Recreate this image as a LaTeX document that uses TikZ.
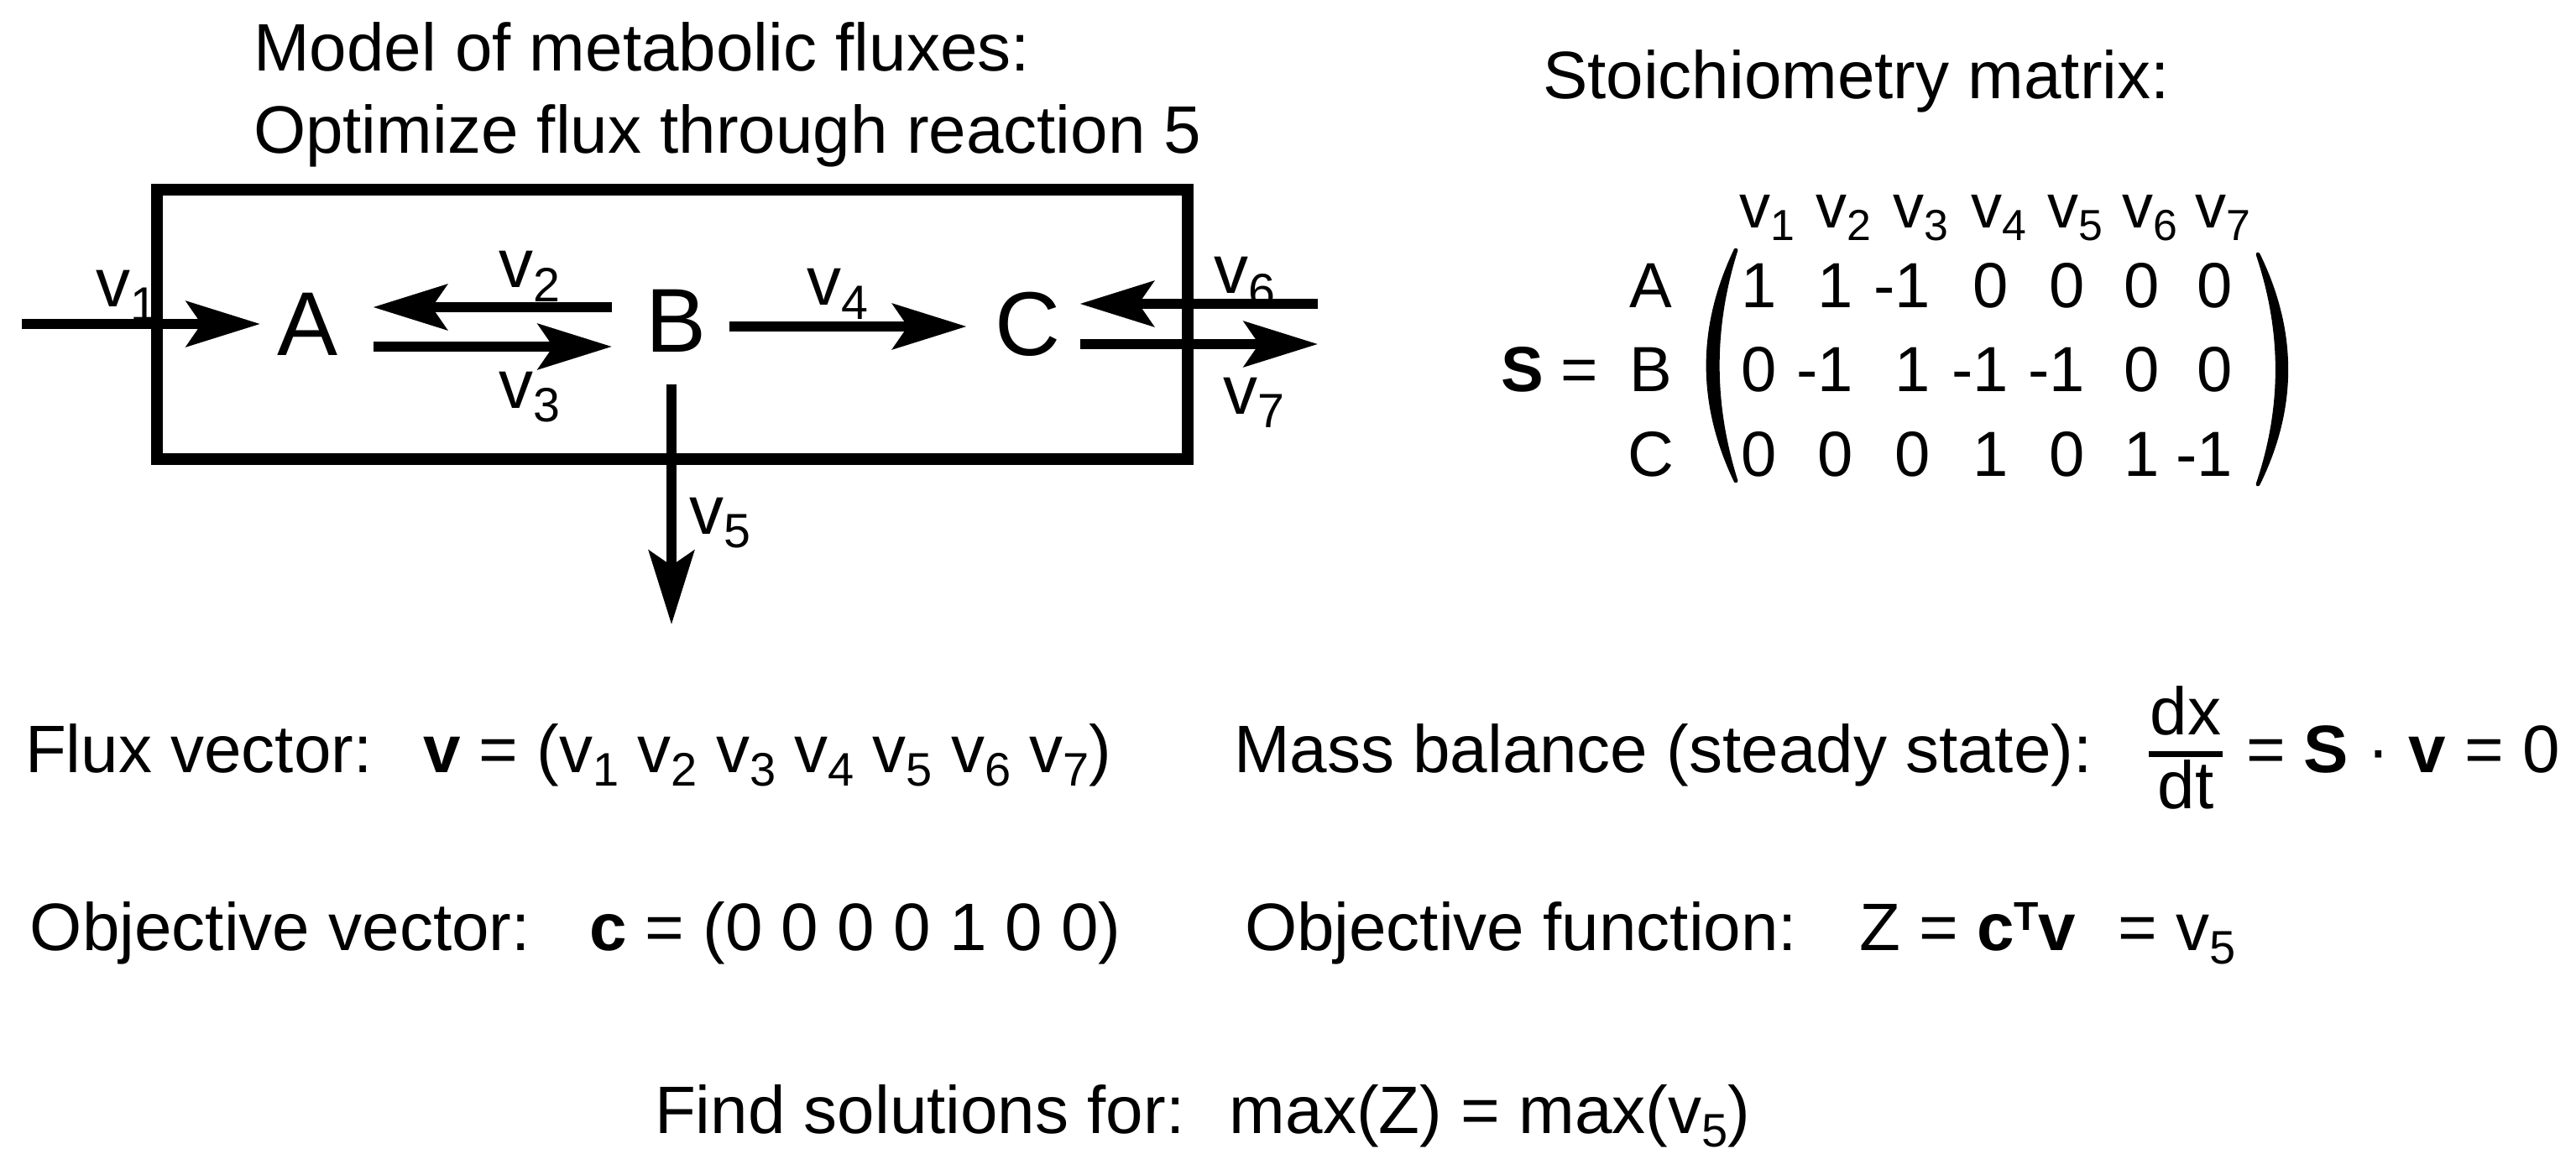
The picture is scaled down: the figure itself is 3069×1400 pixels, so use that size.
\documentclass[tikz,border=0pt]{standalone}
\usepackage{fontspec}
\setmainfont{Liberation Sans}
\usepackage{graphicx}
\usetikzlibrary{arrows.meta,calc}
\newcommand{\lowsub}[1]{\raisebox{-0.2em}{\scalebox{0.7}{#1}}}
\newcommand{\highsup}[1]{\raisebox{0.3em}{\scalebox{0.6}{#1}}}
\begin{document}
\begin{tikzpicture}[x=0.25pt,y=-0.25pt,
  txt/.style={font=\fontsize{20}{24}\selectfont, inner sep=0pt, outer sep=0pt, anchor=base west},
  mtx/.style={font=\fontsize{19}{23}\selectfont, inner sep=0pt, outer sep=0pt, anchor=base east},
  hdr/.style={font=\fontsize{18.5}{22}\selectfont, inner sep=0pt, outer sep=0pt, anchor=base},
  met/.style={font=\fontsize{27}{32}\selectfont, inner sep=0pt, outer sep=0pt, text height=19.3pt, text depth=0pt},
  lbl/.style={font=\fontsize{20.5}{24}\selectfont, inner sep=0pt, outer sep=0pt, anchor=base west},
  flux/.style={line width=3pt, -{Stealth[length=22pt,width=13.5pt,inset=4.5pt]}},
  compartment/.style={line width=3.5pt},
  paren/.style={fill=black, draw=black, line width=1.2pt, line join=round}
]
\useasboundingbox (0,0) rectangle (3069,1400);

% titles
\node[txt] (title1) at (302,85) {Model of metabolic fluxes:};
\node[txt] (title2) at (302,183) {Optimize flux through reaction 5};
\node[txt] (stoich) at (1838,118) {Stoichiometry matrix:};

% compartment
\draw[compartment] (187,226) rectangle (1415,547);

% metabolites
\node[met] (A) at (367,385) {A};
\node[met] (B) at (806,381) {B};
\node[met] (C) at (1224,385) {C};
\coordinate (in1) at (26,386);
\coordinate (in6) at (1570,362);
\coordinate (out7) at (1570,410);
\coordinate (out5) at (800,744);

\draw[flux] (in1) -- ($(A.west)+(-21,1)$);
\draw[flux] ($(B.west)+(-41,-15)$) -- ($(A.east)+(41.5,-19)$);
\draw[flux] ($(A.east)+(41.5,28)$) -- ($(B.west)+(-41,32)$);
\draw[flux] ($(B.east)+(26.5,8)$) -- ($(C.west)+(-33.5,4)$);
\draw[flux] (in6) -- ($(C.east)+(23.5,-23)$);
\draw[flux] ($(C.east)+(23.5,25)$) -- (out7);
\draw[flux] ($(B.south)+(-6,38)$) -- (out5);

\node[lbl] (l1) at (114,366) {v\lowsub{1}};
\node[lbl] (l2) at (594,343) {v\lowsub{2}};
\node[lbl] (l3) at (594,486) {v\lowsub{3}};
\node[lbl] (l4) at (961,364) {v\lowsub{4}};
\node[lbl] (l5) at (821,636) {v\lowsub{5}};
\node[lbl] (l6) at (1446,350) {v\lowsub{6}};
\node[lbl] (l7) at (1457,493) {v\lowsub{7}};

% stoichiometry matrix
\node[mtx, anchor=base west] (Seq) at (1788,467) {\textbf{S} =};
\node[mtx, anchor=base] (rA) at (1967,367) {A};
\node[mtx, anchor=base] (rB) at (1967,467) {B};
\node[mtx, anchor=base] (rC) at (1967,567) {C};
\foreach \x [count=\i] in {2105,2196,2288,2381,2472,2561,2648}
  \node[hdr] (h\i) at (\x,272) {v\lowsub{\i}};
\foreach \v/\x [count=\i] in {1/2117,1/2208,-1/2300,0/2393,0/2484,0/2573,0/2660}
  \node[mtx] (mA\i) at (\x,367) {\v};
\foreach \v/\x [count=\i] in {0/2117,-1/2208,1/2300,-1/2393,-1/2484,0/2573,0/2660}
  \node[mtx] (mB\i) at (\x,467) {\v};
\foreach \v/\x [count=\i] in {0/2117,0/2208,0/2300,1/2393,0/2484,1/2573,-1/2660}
  \node[mtx] (mC\i) at (\x,567) {\v};
\filldraw[paren] (2068,298) .. controls (2024,390) and (2024,481) .. (2068,573)
  .. controls (2039,481) and (2039,390) .. (2068,298) -- cycle;
\filldraw[paren] (2690,303) .. controls (2735,395) and (2735,486) .. (2690,577)
  .. controls (2721,486) and (2721,395) .. (2690,303) -- cycle;

% equations
\node[txt] (fluxlbl) at (30,920) {Flux vector:};
\node[txt] (fluxvec) at (504,920) {\textbf{v} = (v\lowsub{1} v\lowsub{2} v\lowsub{3} v\lowsub{4} v\lowsub{5} v\lowsub{6} v\lowsub{7})};
\node[txt] (masslbl) at (1470,920) {Mass balance (steady state):};
\node[txt, anchor=base] (dx) at (2604,875) {dx};
\node[txt, anchor=base] (dt) at (2604,963) {dt};
\draw[line width=1.75pt] (2560,898) -- (2648,898);
\node[txt] (massfn) at (2676,920) {= \textbf{S} · \textbf{v} = 0};

\node[txt] (objlbl) at (36,1132) {Objective vector:};
\node[txt] (objvec) at (702,1132) {\textbf{c} = (0 0 0 0 1 0 0)};
\node[txt] (ofnlbl) at (1483,1132) {Objective function:};
\node[txt] (ofn) at (2215,1132) {Z = \textbf{c}\highsup{\textbf{T}}\textbf{v}\hspace{0.35em} = v\lowsub{5}};

\node[txt] (find) at (780,1350) {Find solutions for:\hspace{0.3em} max(Z) = max(v\lowsub{5})};
\end{tikzpicture}
\end{document}
